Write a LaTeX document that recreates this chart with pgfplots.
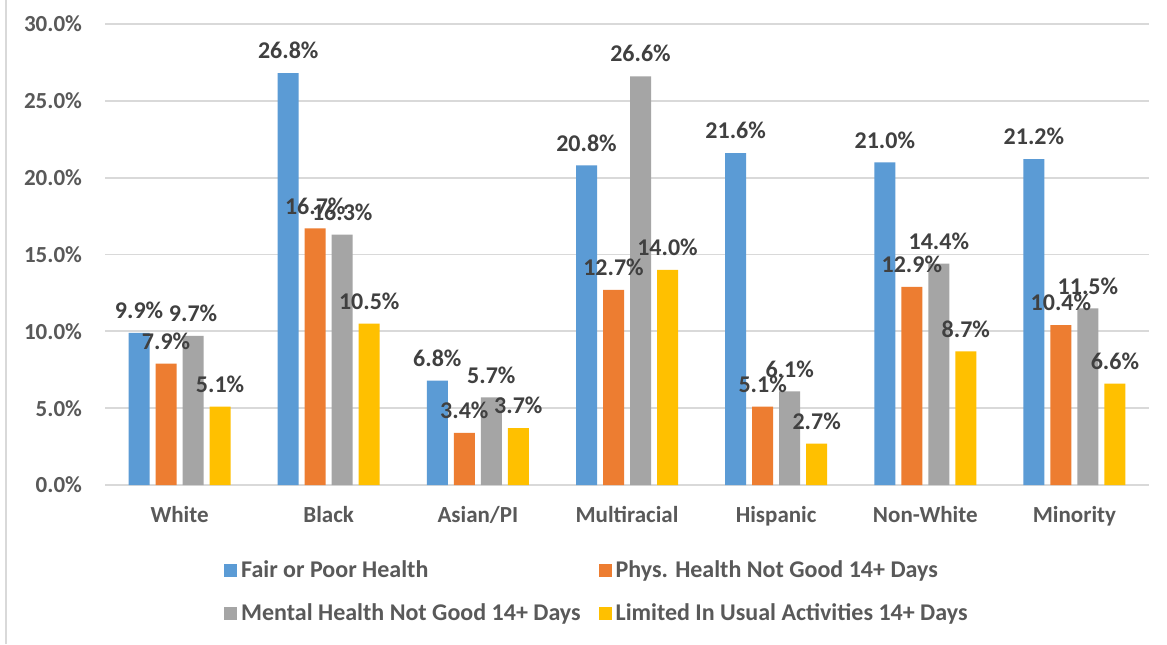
\documentclass[border=0pt]{standalone}
\usepackage{pgfplots}
\pgfplotsset{compat=1.18}
\usepackage{fontspec}
\setmainfont{Carlito}

\definecolor{cBlue}{HTML}{5B9BD5}
\definecolor{cOrange}{HTML}{ED7D31}
\definecolor{cGray}{HTML}{A5A5A5}
\definecolor{cYellow}{HTML}{FFC000}
\definecolor{gridc}{HTML}{D9D9D9}
\definecolor{tickc}{HTML}{595959}
\definecolor{labc}{HTML}{404040}

\begin{document}
\begin{tikzpicture}
\useasboundingbox (0,0) rectangle (583.5pt,322pt);
\fill[white] (0,0) rectangle (583.5pt,322pt);
\draw[gridc, line width=1pt] (2.75pt,0) -- (2.75pt,322pt);
\begin{axis}[
  at={(52.5pt,79.5pt)}, anchor=south west,
  scale only axis, width=522pt, height=230.5pt,
  ybar=3pt, bar width=10.5pt,
  xmin=-0.5, xmax=6.5, ymin=0, ymax=30,
  xtick={0,1,2,3,4,5,6},
  xticklabels={White,Black,Asian/PI,Multiracial,Hispanic,Non-White,Minority},
  ytick={0,5,10,15,20,25,30},
  yticklabel={\pgfmathprintnumber[fixed,fixed zerofill,precision=1]{\tick}\%},
  /pgf/number format/assume math mode=true,
  major tick length=0pt,
  axis line style={draw=none},
  ymajorgrids, grid style={gridc, line width=0.9pt},
  yticklabel style={font=\fontsize{11.5}{13}\selectfont\bfseries, text=tickc, anchor=east, xshift=-8pt},
  xticklabel style={font=\fontsize{11.5}{13}\selectfont\bfseries, text=tickc, yshift=-7pt},
  nodes near coords={\pgfmathprintnumber[fixed,fixed zerofill,precision=1]{\pgfplotspointmeta}\%},
  every node near coord/.append style={font=\fontsize{12}{14}\selectfont\bfseries, text=labc, yshift=3.5pt},
  legend columns=2,
  legend cell align=left,
  legend style={draw=none, fill=none, at={(rel axis cs:0.108,0)}, anchor=north west, yshift=-33.5pt,
    font=\fontsize{12}{14}\selectfont\bfseries, text=tickc, row sep=7.5pt,
    /tikz/every even column/.append style={column sep=7pt}},
  legend image code/.code={\fill[#1,draw=none] (0pt,-3.25pt) rectangle (6.5pt,3.25pt);},
  clip=false,
]
\draw[gridc, line width=1.2pt] (rel axis cs:0,0) -- (rel axis cs:1,0);
\addplot[fill=cBlue, draw=none] coordinates {(0,9.9) (1,26.8) (2,6.8) (3,20.8) (4,21.6) (5,21.0) (6,21.2)};
\addplot[fill=cOrange, draw=none] coordinates {(0,7.9) (1,16.7) (2,3.4) (3,12.7) (4,5.1) (5,12.9) (6,10.4)};
\addplot[fill=cGray, draw=none] coordinates {(0,9.7) (1,16.3) (2,5.7) (3,26.6) (4,6.1) (5,14.4) (6,11.5)};
\addplot[fill=cYellow, draw=none] coordinates {(0,5.1) (1,10.5) (2,3.7) (3,14.0) (4,2.7) (5,8.7) (6,6.6)};
\legend{Fair or Poor Health, Phys. Health Not Good 14+ Days, Mental Health Not Good 14+ Days, Limited In Usual Activities 14+ Days}
\end{axis}
\end{tikzpicture}
\end{document}
